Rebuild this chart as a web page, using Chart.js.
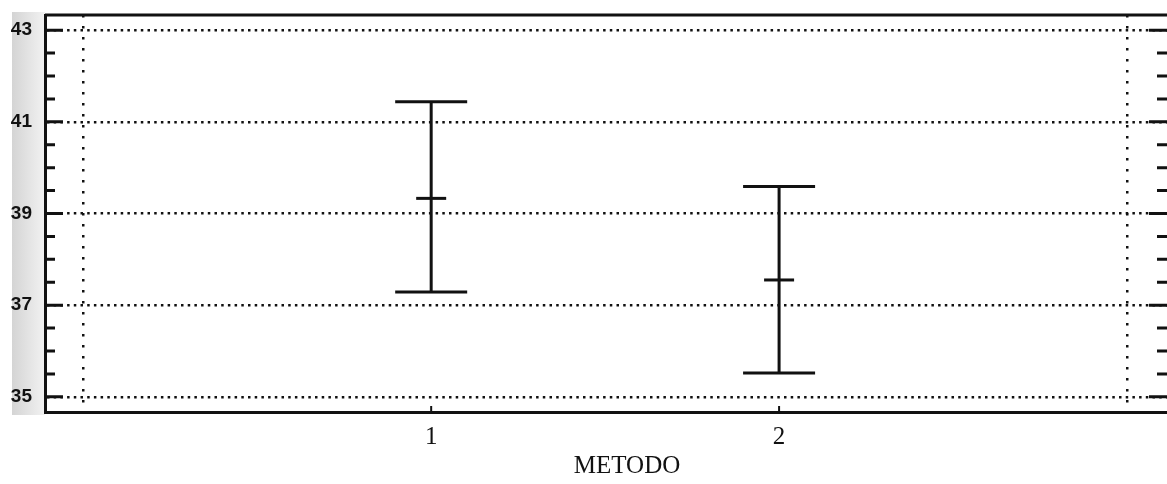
<!DOCTYPE html>
<html>
<head>
<meta charset="utf-8">
<script src="https://cdn.jsdelivr.net/npm/chart.js@4/dist/chart.umd.min.js"></script>
<style>
  html, body { margin: 0; padding: 0; background: #fff; overflow: hidden; }
  #wrap { width: 1167px; height: 484px; }
</style>
</head>
<body>
<div id="wrap"><canvas id="chart"></canvas></div>
<script>
// medias e intervalos por método
const metodos = [1, 2];
const medias = [39.33, 37.55];
const limInf = [37.29, 35.52];
const limSup = [41.44, 39.59];
const yTicks = [35, 37, 39, 41, 43];
const xGrid = [0, 3];
const tituloX = "METODO";

const yMin = 34.67, yMax = 43.33;
const xMin = -0.11, xMax = 3.115;
const tinta = "#111";

// barras verticales: un tramo por método, cortado con un punto nulo
const tramos = metodos.flatMap((m, i) => [
  { x: m, y: limInf[i] },
  { x: m, y: limSup[i] },
  { x: m, y: null }
]);
const topes = metodos.map((m, i) => ({ x: m, y: limSup[i] }))
  .concat(metodos.map((m, i) => ({ x: m, y: limInf[i] })));
const centros = metodos.map((m, i) => ({ x: m, y: medias[i] }));

const marco = {
  id: "marco",
  beforeDraw(chart) {
    const { ctx, chartArea } = chart;
    // franja gris del escaneo a la izquierda
    const g = ctx.createLinearGradient(12, 0, chartArea.left, 0);
    g.addColorStop(0, "#d4d4d4");
    g.addColorStop(1, "#f2f2f2");
    ctx.save();
    ctx.fillStyle = g;
    ctx.fillRect(12, chartArea.top - 3, chartArea.left - 12, chartArea.bottom - chartArea.top + 6);
    ctx.restore();
  },
  afterDraw(chart) {
    const { ctx, chartArea, scales } = chart;
    ctx.save();
    ctx.strokeStyle = tinta;
    ctx.lineWidth = 3;
    // borde superior
    ctx.beginPath();
    ctx.moveTo(chartArea.left, chartArea.top);
    ctx.lineTo(chartArea.right, chartArea.top);
    ctx.stroke();
    // marcas del eje y, hacia dentro, a ambos lados
    scales.y.ticks.forEach(t => {
      const py = scales.y.getPixelForValue(t.value);
      const largo = yTicks.includes(t.value) ? 18 : 10;
      ctx.beginPath();
      ctx.moveTo(chartArea.left, py);
      ctx.lineTo(chartArea.left + largo, py);
      ctx.moveTo(chartArea.right, py);
      ctx.lineTo(chartArea.right - largo, py);
      ctx.stroke();
    });
    // marcas cortas del eje x
    ctx.lineWidth = 2;
    metodos.forEach(m => {
      const px = scales.x.getPixelForValue(m);
      ctx.beginPath();
      ctx.moveTo(px, chartArea.bottom);
      ctx.lineTo(px, chartArea.bottom - 6);
      ctx.stroke();
    });
    // título del eje x
    ctx.fillStyle = tinta;
    ctx.font = "25px 'Liberation Serif', 'Times New Roman', serif";
    ctx.textAlign = "center";
    ctx.textBaseline = "alphabetic";
    ctx.fillText(tituloX, 627, 473);
    ctx.restore();
  }
};

new Chart(document.getElementById("chart"), {
  type: "scatter",
  data: {
    datasets: [
      {
        data: tramos,
        showLine: true,
        spanGaps: false,
        borderColor: tinta,
        borderWidth: 3,
        pointRadius: 0
      },
      {
        data: topes,
        pointStyle: "line",
        pointRadius: 36,
        borderWidth: 3,
        borderColor: tinta
      },
      {
        data: centros,
        pointStyle: "line",
        pointRadius: 15,
        borderWidth: 3,
        borderColor: tinta
      }
    ]
  },
  options: {
    responsive: true,
    maintainAspectRatio: false,
    animation: false,
    events: [],
    layout: { autoPadding: false, padding: { top: 15, left: 0, right: 0, bottom: 0 } },
    plugins: { legend: { display: false }, tooltip: { enabled: false } },
    scales: {
      x: {
        type: "linear",
        min: xMin,
        max: xMax,
        afterBuildTicks: s => {
          s.ticks = xGrid.concat(metodos).sort((a, b) => a - b).map(v => ({ value: v }));
        },
        afterFit: s => { s.height = 72; s.paddingLeft = 0; s.paddingRight = 0; },
        ticks: {
          autoSkip: false,
          maxRotation: 0,
          padding: 10,
          color: tinta,
          font: { family: "'Liberation Serif', 'Times New Roman', serif", size: 25 },
          callback: v => metodos.includes(v) ? String(v) : ""
        },
        grid: {
          drawTicks: false,
          lineWidth: 2.5,
          color: c => (c.tick && xGrid.includes(c.tick.value)) ? tinta : "rgba(0,0,0,0)"
        },
        border: { display: true, color: tinta, width: 3, dash: [2.5, 8.5] }
      },
      y: {
        type: "linear",
        min: yMin,
        max: yMax,
        afterBuildTicks: s => {
          const t = [];
          for (let v = yTicks[0]; v <= yTicks[yTicks.length - 1] + 1e-9; v += 0.5) t.push({ value: v });
          s.ticks = t;
        },
        afterFit: s => { s.width = 45; s.paddingTop = 0; s.paddingBottom = 0; },
        ticks: {
          autoSkip: false,
          padding: 13,
          color: tinta,
          font: { family: "'Liberation Sans', Arial, sans-serif", size: 19, weight: "bold" },
          callback: v => yTicks.includes(v) ? String(v) : ""
        },
        grid: {
          drawTicks: false,
          lineWidth: 2.5,
          color: c => (c.tick && yTicks.includes(c.tick.value)) ? tinta : "rgba(0,0,0,0)"
        },
        border: { display: true, color: tinta, width: 3, dash: [2.5, 4.2] }
      }
    }
  },
  plugins: [marco]
});
</script>
</body>
</html>
